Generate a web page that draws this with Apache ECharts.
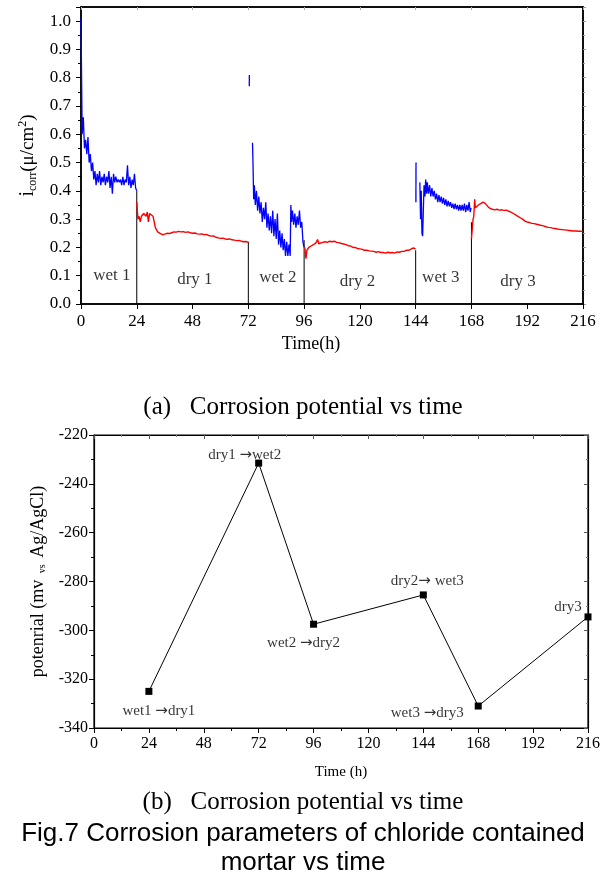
<!DOCTYPE html>
<html>
<head>
<meta charset="utf-8">
<script src="https://cdn.jsdelivr.net/npm/echarts@6/dist/echarts.min.js"></script>
<style>
html,body{margin:0;padding:0;background:#fff;}
#chart{width:606px;height:881px;}
</style>
</head>
<body>
<div id="chart"></div>
<script>
// ---------- Top chart data (i_corr vs time) ----------
var wet1 = [[0,1.01],[0.5,0.60],[1,0.66],[1.5,0.55],[2,0.58],[2.5,0.53],[3,0.59],[3.5,0.50],[4,0.53],[4.5,0.47],[5,0.50],[5.5,0.44],[6,0.47],[6.5,0.42],[7,0.46],[7.5,0.43],[8,0.47],[8.5,0.42],[9,0.45],[9.5,0.43],[10,0.46],[10.5,0.42],[11,0.45],[11.5,0.43],[12,0.47],[12.5,0.41],[13,0.45],[13.5,0.39],[14,0.46],[14.5,0.43],[15,0.45],[15.5,0.43],[16,0.44],[16.5,0.43],[17,0.44],[17.5,0.42],[18,0.45],[18.5,0.42],[19,0.44],[19.5,0.43],[20,0.49],[20.5,0.42],[21,0.45],[21.5,0.41],[22,0.44],[22.5,0.42],[23,0.46],[23.5,0.41],[24,0.40]];
var wet2a = [[72.4,0.77],[72.45,0.81]];
var wet2 = [[73.8,0.57],[74,0.50],[74.3,0.37],[74.6,0.42],[75,0.35],[75.5,0.40],[76,0.33],[76.5,0.38],[77,0.32],[77.5,0.36],[78,0.29],[78.5,0.34],[79,0.30],[79.5,0.36],[80,0.27],[80.5,0.32],[81,0.26],[81.5,0.31],[82,0.25],[82.5,0.33],[83,0.24],[83.5,0.30],[84,0.23],[84.5,0.32],[85,0.21],[85.5,0.26],[86,0.20],[86.5,0.25],[87,0.19],[87.5,0.23],[88,0.17],[88.5,0.22],[89,0.17],[89.5,0.21],[90,0.17],[90.3,0.35],[90.6,0.29],[91,0.33],[91.5,0.28],[92,0.32],[92.5,0.27],[93,0.31],[93.5,0.28],[94,0.33],[94.5,0.27],[95,0.29],[95.5,0.22],[96,0.20]];
var wet3a = [[144.1,0.36],[144.15,0.50]];
var wet3 = [[145.8,0.43],[146.1,0.30],[146.4,0.40],[146.7,0.25],[147,0.24],[147.3,0.33],[147.6,0.42],[148,0.38],[148.3,0.44],[148.7,0.39],[149,0.43],[149.5,0.39],[150,0.42],[150.5,0.38],[151,0.41],[151.5,0.38],[152,0.40],[152.5,0.37],[153,0.39],[153.5,0.36],[154,0.385],[154.5,0.36],[155,0.38],[155.5,0.355],[156,0.375],[156.5,0.35],[157,0.37],[157.5,0.345],[158,0.365],[158.5,0.345],[159,0.36],[159.5,0.34],[160,0.355],[160.5,0.335],[161,0.355],[161.5,0.335],[162,0.35],[162.5,0.33],[163,0.35],[163.5,0.33],[164,0.35],[164.5,0.33],[165,0.355],[165.5,0.325],[166,0.35],[166.5,0.33],[167,0.36],[167.5,0.325],[167.8,0.34]];
var dry1 = [[24,0.36],[24.5,0.30],[25,0.31],[25.5,0.29],[26,0.31],[27,0.32],[28,0.31],[28.5,0.325],[29,0.29],[29.5,0.32],[30,0.32],[31,0.31],[32,0.27],[33,0.255],[34,0.25],[35,0.245],[36,0.247],[37,0.25],[38,0.249],[39,0.252],[40,0.255],[41,0.254],[42,0.257],[43,0.255],[44,0.256],[45,0.253],[46,0.255],[47,0.252],[48,0.25],[49,0.251],[50,0.248],[51,0.247],[52,0.248],[53,0.245],[54,0.246],[55,0.242],[56,0.24],[57,0.241],[58,0.236],[59,0.234],[60,0.232],[61,0.233],[62,0.23],[63,0.229],[64,0.23],[65,0.227],[66,0.226],[67,0.224],[68,0.225],[69,0.222],[70,0.22],[71,0.221],[72,0.218]];
var dry2 = [[96.3,0.2],[96.8,0.16],[97.2,0.19],[98,0.2],[99,0.205],[100,0.21],[101,0.215],[101.8,0.228],[102.3,0.213],[103,0.215],[104,0.218],[105,0.22],[106,0.218],[107,0.222],[108,0.22],[109,0.222],[110,0.218],[111,0.217],[112,0.214],[113,0.212],[114,0.21],[115,0.206],[116,0.205],[117,0.2],[118,0.2],[119,0.196],[120,0.195],[121,0.193],[122,0.19],[123,0.19],[124,0.188],[125,0.187],[126,0.186],[127,0.183],[128,0.185],[129,0.182],[130,0.182],[131,0.18],[132,0.183],[133,0.181],[134,0.182],[135,0.18],[136,0.184],[137,0.183],[138,0.186],[139,0.186],[140,0.19],[141,0.19],[142,0.194],[143,0.198],[144,0.195]];
var dry3 = [[168,0.23],[168.3,0.26],[168.7,0.30],[169,0.31],[169.4,0.37],[169.7,0.34],[170,0.345],[171,0.35],[172,0.355],[173,0.36],[174,0.355],[175,0.345],[176,0.338],[177,0.335],[178,0.333],[179,0.335],[180,0.332],[181,0.333],[182,0.331],[183,0.332],[184,0.328],[185,0.325],[186,0.32],[187,0.315],[188,0.31],[189,0.305],[190,0.3],[191,0.293],[192,0.29],[193,0.288],[194,0.285],[195,0.284],[196,0.282],[197,0.28],[198,0.278],[199,0.276],[200,0.273],[201,0.271],[202,0.27],[203,0.268],[204,0.267],[205,0.265],[206,0.264],[207,0.263],[208,0.262],[209,0.261],[210,0.26],[211,0.259],[212,0.258],[213,0.258],[214,0.257],[215,0.257],[216,0.256]];
var boundaryTimes = [24, 72, 96, 144, 168];
var boundaryTops = [0.40, 0.22, 0.226, 0.19, 0.289];
var phaseNames = ['wet 1','dry 1','wet 2','dry 2','wet 3','dry 3'];
var phaseTimes = [13.3, 49, 84.7, 119, 154.8, 188];
var phaseValues = [0.099, 0.085, 0.092, 0.078, 0.092, 0.078];

// ---------- Bottom chart data (potential vs time) ----------
var potTimes = [24, 72, 96, 144, 168, 216];
var potValues = [-325, -231.5, -297.5, -285.5, -331, -294.5];
var potLabels = ['wet1 {a|\u2192}dry1', 'dry1 {a|\u2192}wet2', 'wet2 {a|\u2192}dry2', 'dry2{a|\u2192} wet3', 'wet3 {a|\u2192}dry3', 'dry3'];

var serif = 'Liberation Serif';
var chart = echarts.init(document.getElementById('chart'), null, {renderer: 'canvas'});

var series = [];
function blue(d){ series.push({type:'line', xAxisIndex:0, yAxisIndex:0, data:d, showSymbol:false, symbol:'none', lineStyle:{color:'#0000ff', width:1.3}, animation:false, z:3}); }
function red(d){ series.push({type:'line', xAxisIndex:0, yAxisIndex:0, data:d, showSymbol:false, symbol:'none', lineStyle:{color:'#ff0000', width:1.4}, animation:false, z:3}); }
[wet1, wet2a, wet2, wet3a, wet3].forEach(blue);
[dry1, dry2, dry3].forEach(red);
boundaryTimes.forEach(function(t, i){
  series.push({type:'line', xAxisIndex:0, yAxisIndex:0, data:[[t,0],[t,boundaryTops[i]]], showSymbol:false, symbol:'none', lineStyle:{color:'#000', width:1}, animation:false, z:2});
});
series.push({type:'scatter', xAxisIndex:0, yAxisIndex:0, symbolSize:0, animation:false,
  data: phaseNames.map(function(n,i){ return {name:n, value:[phaseTimes[i], phaseValues[i]]}; }),
  label:{show:true, position:'inside', formatter:'{b}', color:'#000', fontFamily:serif, fontSize:17}});

series.push({type:'line', xAxisIndex:2, yAxisIndex:2, animation:false,
  data: potTimes.map(function(t,i){ return [t, potValues[i]]; }),
  symbol:'rect', symbolSize:7, itemStyle:{color:'#000'}, lineStyle:{color:'#000', width:1}, z:3});
var labelOffsets = [[10,20],[-14,-8],[-10,19],[4,-14],[-51,7],[-20,-10]];
series.push({type:'scatter', xAxisIndex:2, yAxisIndex:2, symbolSize:0, animation:false, z:4,
  data: potTimes.map(function(t,i){ return {value:[t, potValues[i]], label:{offset:labelOffsets[i], formatter: potLabels[i]}}; }),
  label:{show:true, position:'inside', align:'center', verticalAlign:'middle', color:'#000', fontFamily:serif, fontSize:15,
    rich:{a:{fontFamily:'DejaVu Sans', fontSize:15, color:'#000'}}}});

var option = {
  animation:false,
  backgroundColor:'#fff',
  grid:[
    {left:81, top:7, width:502, height:297, containLabel:false, show:true, borderColor:'#000', borderWidth:1.5, backgroundColor:'transparent'},
    {left:94, top:435, width:494, height:293, containLabel:false, show:true, borderColor:'#000', borderWidth:1.2, backgroundColor:'transparent'}
  ],
  xAxis:[
    {gridIndex:0, type:'value', min:0, max:216, interval:24, position:'bottom',
     name:'Time(h)', nameLocation:'middle', nameGap:31, nameTextStyle:{fontFamily:serif, fontSize:18, color:'#000', padding:[0,42,0,0]},
     axisLine:{show:true, onZero:false, lineStyle:{color:'#000', width:1.5}}, axisTick:{show:true, length:5, lineStyle:{color:'#000'}},
     minorTick:{show:false}, splitLine:{show:false},
     axisLabel:{fontFamily:serif, fontSize:17, color:'#000', margin:9}},
    {gridIndex:0, type:'value', min:0, max:216, interval:24, position:'top',
     axisLine:{show:true, onZero:false, lineStyle:{color:'#000', width:1.5}}, axisTick:{show:true, inside:true, length:3, lineStyle:{color:'#aaa'}},
     axisLabel:{show:false}, splitLine:{show:false}},
    {gridIndex:1, type:'value', min:0, max:216, interval:24, position:'bottom',
     name:'Time (h)', nameLocation:'middle', nameGap:37, nameTextStyle:{fontFamily:serif, fontSize:15, color:'#000'},
     axisLine:{show:true, onZero:false, lineStyle:{color:'#000', width:1.2}}, axisTick:{show:true, length:5, lineStyle:{color:'#000'}},
     minorTick:{show:true, splitNumber:2, length:3, lineStyle:{color:'#000'}}, splitLine:{show:false}, minorSplitLine:{show:false},
     axisLabel:{fontFamily:serif, fontSize:16, color:'#000', margin:8}},
    {gridIndex:1, type:'value', min:0, max:216, interval:24, position:'top',
     axisLine:{show:true, onZero:false, lineStyle:{color:'#000', width:1.2}}, axisTick:{show:true, inside:true, length:4, lineStyle:{color:'#555'}},
     minorTick:{show:true, splitNumber:2, length:2, lineStyle:{color:'#888'}},
     axisLabel:{show:false}, splitLine:{show:false}}
  ],
  yAxis:[
    {gridIndex:0, type:'value', min:0, max:1.05, interval:0.1, position:'left',
     name:'{i|i}{sub|corr}{n|(\u03bc/cm}{sup|2}{n|)}', nameLocation:'middle', nameGap:39,
     nameTextStyle:{fontFamily:serif, fontSize:18, color:'#000',
       rich:{i:{fontFamily:serif, fontSize:20, color:'#000'}, n:{fontFamily:serif, fontSize:19, color:'#000'},
             sub:{fontFamily:serif, fontSize:12, color:'#000', padding:[10,0,0,0]},
             sup:{fontFamily:serif, fontSize:12, color:'#000', padding:[0,0,10,0]}}},
     axisLine:{show:true, onZero:false, lineStyle:{color:'#000', width:1.5}}, axisTick:{show:true, length:5, lineStyle:{color:'#000'}},
     minorTick:{show:true, splitNumber:2, length:3, lineStyle:{color:'#000'}}, splitLine:{show:false}, minorSplitLine:{show:false},
     axisLabel:{fontFamily:serif, fontSize:17, color:'#000', margin:10, formatter:function(v){ return v > 1.001 ? '' : v.toFixed(1); }}},
    {gridIndex:0, type:'value', min:0, max:1.05, interval:0.1, position:'right',
     axisLine:{show:true, onZero:false, lineStyle:{color:'#000', width:1.5}}, axisTick:{show:true, length:3, lineStyle:{color:'#999'}},
     minorTick:{show:true, splitNumber:2, length:2, lineStyle:{color:'#999'}},
     axisLabel:{show:false}, splitLine:{show:false}},
    {gridIndex:1, type:'value', min:-340, max:-220, interval:20, position:'left',
     name:'{n|potenrial (mv }{sub|vs}{n| Ag/AgCl)}', nameLocation:'middle', nameGap:44,
     nameTextStyle:{fontFamily:serif, fontSize:18, color:'#000',
       rich:{n:{fontFamily:serif, fontSize:18, color:'#000'}, sub:{fontFamily:serif, fontSize:10, color:'#000', padding:[10,2,0,2]}}},
     axisLine:{show:true, onZero:false, lineStyle:{color:'#000', width:1.2}}, axisTick:{show:true, length:5, lineStyle:{color:'#000'}},
     minorTick:{show:true, splitNumber:2, length:3, lineStyle:{color:'#000'}}, splitLine:{show:false}, minorSplitLine:{show:false},
     axisLabel:{fontFamily:serif, fontSize:16, color:'#000', margin:6}},
    {gridIndex:1, type:'value', min:-340, max:-220, interval:20, position:'right',
     axisLine:{show:true, onZero:false, lineStyle:{color:'#000', width:1.2}}, axisTick:{show:true, inside:true, length:4, lineStyle:{color:'#555'}},
     minorTick:{show:true, splitNumber:2, length:2, lineStyle:{color:'#888'}},
     axisLabel:{show:false}, splitLine:{show:false}}
  ],
  graphic:[
    {type:'text', left:'center', top:395, style:{text:'(a)   Corrosion potential vs time', font:'25px "Liberation Serif"', fill:'#000'}},
    {type:'text', left:'center', top:790, style:{text:'(b)   Corrosion potential vs time', font:'25px "Liberation Serif"', fill:'#000'}},
    {type:'text', left:'center', top:821, style:{text:'Fig.7 Corrosion parameters of chloride contained', font:'26px "Liberation Sans"', fill:'#000'}},
    {type:'text', left:'center', top:850, style:{text:'mortar vs time', font:'26px "Liberation Sans"', fill:'#000'}}
  ],
  series: series
};
chart.setOption(option);
</script>
</body>
</html>
